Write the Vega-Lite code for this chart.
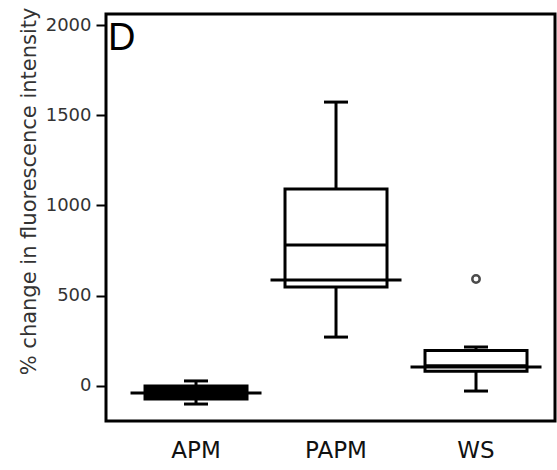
{
  "$schema": "https://vega.github.io/schema/vega-lite/v6.json",
  "autosize": {"type": "none"},
  "padding": {"left": 106, "top": 14, "right": 2, "bottom": 49},
  "width": 449,
  "height": 407,
  "background": "white",
  "config": {
    "font": "DejaVu Sans",
    "view": {"stroke": "black", "strokeWidth": 3},
    "axis": {"grid": false},
    "tick": {"opacity": 1}
  },
  "datasets": {
    "stats": [
      {"group": "APM", "lower": -100, "q1": -72, "median": -33, "q3": 0, "upper": 28, "mean": -39},
      {"group": "PAPM", "lower": 271, "q1": 548, "median": 781, "q3": 1091, "upper": 1573, "mean": 587},
      {"group": "WS", "lower": -28, "q1": 82, "median": 112, "q3": 196, "upper": 216, "mean": 105}
    ],
    "outliers": [
      {"group": "WS", "value": 593}
    ]
  },
  "encoding": {
    "x": {
      "field": "group", "type": "nominal",
      "scale": {"domain": ["APM", "PAPM", "WS"], "paddingInner": 0, "paddingOuter": 0.1036, "align": 0.69},
      "axis": {"title": null, "domain": false, "ticks": false, "labelAngle": 0, "labelFontSize": 23, "labelColor": "#111", "labelPadding": 18}
    }
  },
  "layer": [
    {
      "data": {"name": "stats"},
      "mark": {"type": "rule", "color": "black", "strokeWidth": 3},
      "encoding": {
        "y": {
          "field": "lower", "type": "quantitative",
          "scale": {"domain": [-194, 2061], "nice": false, "zero": false},
          "axis": {
            "title": "% change in fluorescence intensity",
            "titleFontSize": 21, "titleFontWeight": "normal", "titleColor": "#333",
            "titleAnchor": "end", "titlePadding": 6, "titleY": -7,
            "values": [0, 500, 1000, 1500, 2000], "format": "d",
            "domain": false, "tickColor": "black", "tickWidth": 2, "tickSize": 10,
            "labelFontSize": 18, "labelColor": "#333", "labelPadding": 5
          }
        },
        "y2": {"field": "upper"}
      }
    },
    {
      "data": {"name": "stats"},
      "mark": {"type": "tick", "color": "black", "size": 24, "thickness": 3},
      "encoding": {"y": {"field": "lower", "type": "quantitative"}}
    },
    {
      "data": {"name": "stats"},
      "mark": {"type": "tick", "color": "black", "size": 24, "thickness": 3},
      "encoding": {"y": {"field": "upper", "type": "quantitative"}}
    },
    {
      "data": {"name": "stats"},
      "mark": {"type": "bar", "width": 102, "stroke": "black", "strokeWidth": 3},
      "encoding": {
        "y": {"field": "q1", "type": "quantitative"},
        "y2": {"field": "q3"},
        "fill": {"condition": {"test": "datum.group === 'APM'", "value": "black"}, "value": "white"}
      }
    },
    {
      "data": {"name": "stats"},
      "mark": {"type": "tick", "color": "black", "size": 102, "thickness": 3},
      "encoding": {"y": {"field": "median", "type": "quantitative"}}
    },
    {
      "data": {"name": "stats"},
      "mark": {"type": "tick", "color": "black", "size": 131, "thickness": 3},
      "encoding": {"y": {"field": "mean", "type": "quantitative"}}
    },
    {
      "data": {"name": "outliers"},
      "mark": {"type": "point", "shape": "circle", "filled": false, "color": "black", "strokeWidth": 2.5, "size": 55},
      "encoding": {"y": {"field": "value", "type": "quantitative"}}
    },
    {
      "data": {"values": [{"label": "D"}]},
      "mark": {"type": "text", "align": "left", "baseline": "top", "font": "Liberation Sans", "fontSize": 38, "dx": -88, "dy": 6, "color": "black"},
      "encoding": {
        "x": {"datum": "APM"},
        "y": {"datum": 2061},
        "text": {"field": "label"}
      }
    }
  ]
}
